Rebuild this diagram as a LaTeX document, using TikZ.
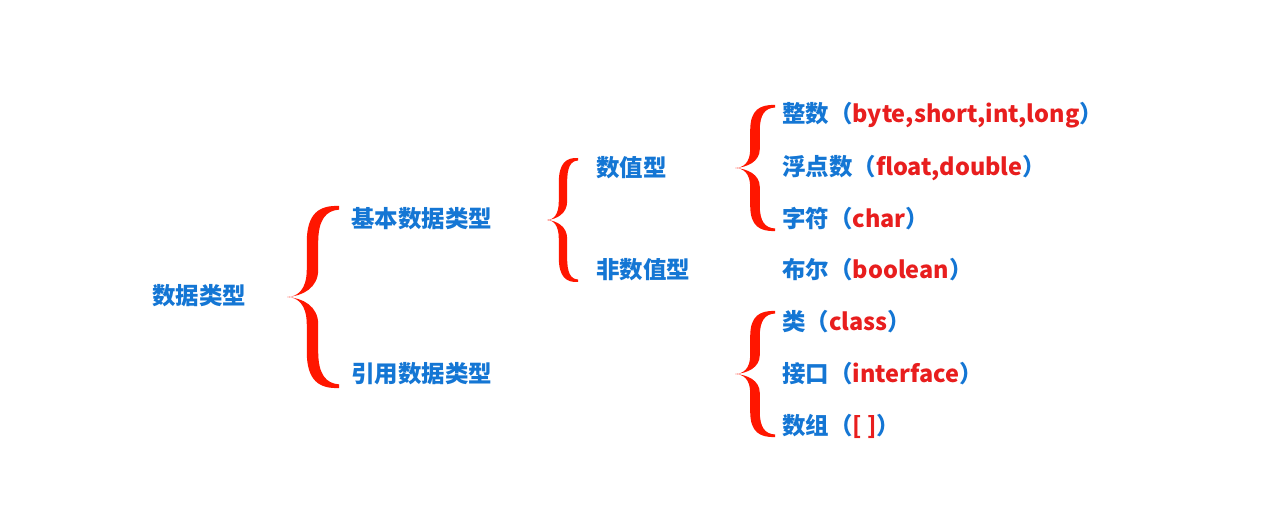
\documentclass[tikz,border=0pt]{standalone}
\usepackage{fontspec}
\newfontfamily\cjk{Noto Sans CJK SC}
\definecolor{txtblue}{RGB}{20,118,212}
\definecolor{txtred}{RGB}{232,30,30}
\definecolor{bracered}{RGB}{255,22,0}
\newcommand\rd[1]{\textcolor{txtred}{#1}}
% #1 tip x, #2 tip y, #3 half height, #4 width, #5 stem thickness (normalized)
\newcommand\curlybr[5]{%
\begin{scope}[shift={(#1,#2)},xscale=#4,yscale=#3]
\fill[bracered] (1,-1) .. controls (0.62,-1.01) and (0.38,-0.92) .. (0.38,-0.6)
  -- (0.38,-0.3) .. controls (0.38,-0.08) and (0.2,0) .. (0,0)
  .. controls (0.2,0) and (0.38,0.08) .. (0.38,0.3) -- (0.38,0.6)
  .. controls (0.38,0.92) and (0.62,1.01) .. (1,1) -- (1,0.96)
  .. controls (0.75,0.95) and ({0.38+#5},0.85) .. ({0.38+#5},0.6) -- ({0.38+#5},0.3)
  .. controls ({0.38+#5},0.1) and (0.3,0.01) .. (0,0)
  .. controls (0.3,-0.01) and ({0.38+#5},-0.1) .. ({0.38+#5},-0.3) -- ({0.38+#5},-0.6)
  .. controls ({0.38+#5},-0.85) and (0.75,-0.95) .. (1,-0.96) -- cycle;
\end{scope}}
\begin{document}
\begin{tikzpicture}[x=0.75pt,y=-0.75pt,
  lbl/.style={anchor=west,inner sep=0pt,text=txtblue,font=\cjk\bfseries\fontsize{17.6}{20}\selectfont}]
\useasboundingbox[fill=white] (0,0) rectangle (1282,527);
\node[lbl] (root) at (152,296) {数据类型};
\node[lbl] (basic) at (351,219) {基本数据类型};
\node[lbl] (ref) at (351,374) {引用数据类型};
\node[lbl] (num) at (596,168) {数值型};
\node[lbl] (nonnum) at (596,270) {非数值型};
\node[lbl] (int) at (782,115) {整数（\rd{byte,short,int,long}）};
\node[lbl] (float) at (782,168) {浮点数（\rd{float,double}）};
\node[lbl] (char) at (782,219) {字符（\rd{char}）};
\node[lbl] (bool) at (782,270) {布尔（\rd{boolean}）};
\node[lbl] (class) at (782,322) {类（\rd{class}）};
\node[lbl] (iface) at (782,374) {接口（\rd{interface}）};
\node[lbl] (arr) at (782,426) {数组（\rd{[ ]}）};
\curlybr{287}{297}{91}{52}{0.22}
\curlybr{547}{220}{62}{31}{0.27}
\curlybr{735}{168}{63}{40}{0.24}
\curlybr{735}{374}{63}{40}{0.24}
\end{tikzpicture}
\end{document}
